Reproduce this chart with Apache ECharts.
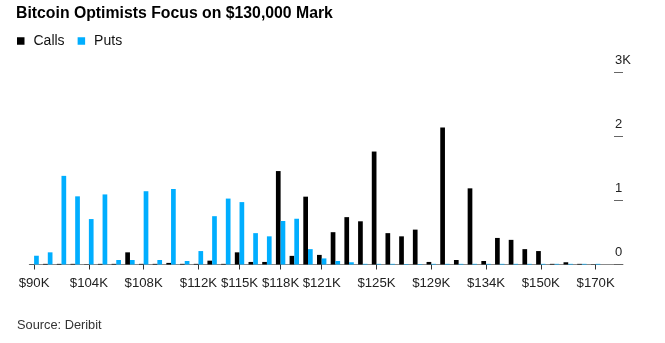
<!DOCTYPE html>
<html><head><meta charset="utf-8">
<script src="https://cdn.jsdelivr.net/npm/echarts@6/dist/echarts.min.js"></script>
<style>html,body{margin:0;padding:0;background:#fff}#c{width:665px;height:343px}</style>
</head><body><div id="c"></div>
<script>
// Strike prices ($K), one per category
const strikes = [90, 95, 100, 102, 104, 105, 106, 107, 108, 109, 110, 111, 112, 113, 114, 115, 116, 117, 118, 119, 120,
                 121, 122, 123, 124, 125, 126, 127, 128, 129, 130, 131, 132, 134, 135, 140, 145, 150, 155, 160, 165, 170];
// Open interest (contracts)
const calls = [5, 10, 10, 10, 5, 10, 10, 190, 10, 10, 25, 10, 10, 60, 10, 190, 40, 40, 1460, 135, 1060,
               150, 505, 740, 675, 1765, 490, 440, 545, 40, 2140, 70, 1190, 55, 415, 385, 240, 210, 10, 35, 10, 5];
const puts = [137, 190, 1385, 1065, 710, 1095, 70, 70, 1145, 70, 1180, 55, 210, 755, 1030, 975, 490, 440, 680, 715, 240,
              95, 55, 35, 10, 10, 10, 8, 8, 10, 10, 10, 10, 10, 10, 10, 10, 10, 10, 10, 10, 10];
// Labelled strikes on the x axis
const xTickStrikes = [90, 104, 108, 112, 115, 118, 121, 125, 129, 134, 150, 170];
// Y axis tick labels
const yTickValues = [0, 1000, 2000, 3000];
const yTickLabels = ['0', '1', '2', '3K'];

const tickIdx = xTickStrikes.map(s => strikes.indexOf(s));
const font = 'Liberation Sans, Arial, sans-serif';

const chart = echarts.init(document.getElementById('c'), null, {renderer: 'canvas'});
chart.setOption({
  animation: false,
  backgroundColor: '#fff',
  title: [
    {text: 'Bitcoin Optimists Focus on $130,000 Mark', left: 16, top: 6, padding: 0,
     textStyle: {fontFamily: font, fontSize: 15.8, fontWeight: 'bold', color: '#000'}},
    {text: 'Source: Deribit', left: 17, top: 319, padding: 0,
     textStyle: {fontFamily: font, fontSize: 12.8, fontWeight: 'normal', color: '#333'}}
  ],
  legend: {
    left: 17, top: 34, padding: 0, itemWidth: 7.5, itemHeight: 7.5, itemGap: 13, icon: 'rect',
    textStyle: {fontFamily: font, fontSize: 14, color: '#111', padding: [0, 0, 0, 4]},
    data: ['Calls', 'Puts']
  },
  grid: {left: 29.3, right: 42, top: 72.5, bottom: 78.5},
  xAxis: {
    type: 'value', min: -0.35, max: 43,
    splitLine: {show: false},
    axisLine: {show: true, onZero: false, lineStyle: {color: '#8a8a8a', width: 1}},
    axisTick: {show: true, customValues: tickIdx, length: 5, lineStyle: {color: '#333', width: 1}},
    axisLabel: {customValues: tickIdx, margin: 12, fontFamily: font, fontSize: 13.2, color: '#222',
      formatter: v => '$' + strikes[v] + 'K'}
  },
  yAxis: {
    type: 'value', position: 'right', min: 0, max: 3000, interval: 1000,
    splitLine: {show: false},
    axisLine: {show: false, onZero: false},
    axisTick: {show: true, inside: true, length: 9, lineStyle: {color: '#666', width: 1}},
    axisLabel: {margin: -8, align: 'left', verticalAlign: 'bottom', padding: [0, 0, 6, 0],
      fontFamily: font, fontSize: 13, color: '#222',
      formatter: v => yTickLabels[yTickValues.indexOf(v)]}
  },
  series: [
    {name: 'Calls', type: 'bar', data: calls.map((v, i) => [i, v]), barWidth: 4.7, barGap: '0%',
     itemStyle: {color: '#000'}},
    {name: 'Puts', type: 'bar', data: puts.map((v, i) => [i, v]), barWidth: 4.7, barGap: '0%',
     itemStyle: {color: '#00aeff'}}
  ]
});
</script></body></html>
